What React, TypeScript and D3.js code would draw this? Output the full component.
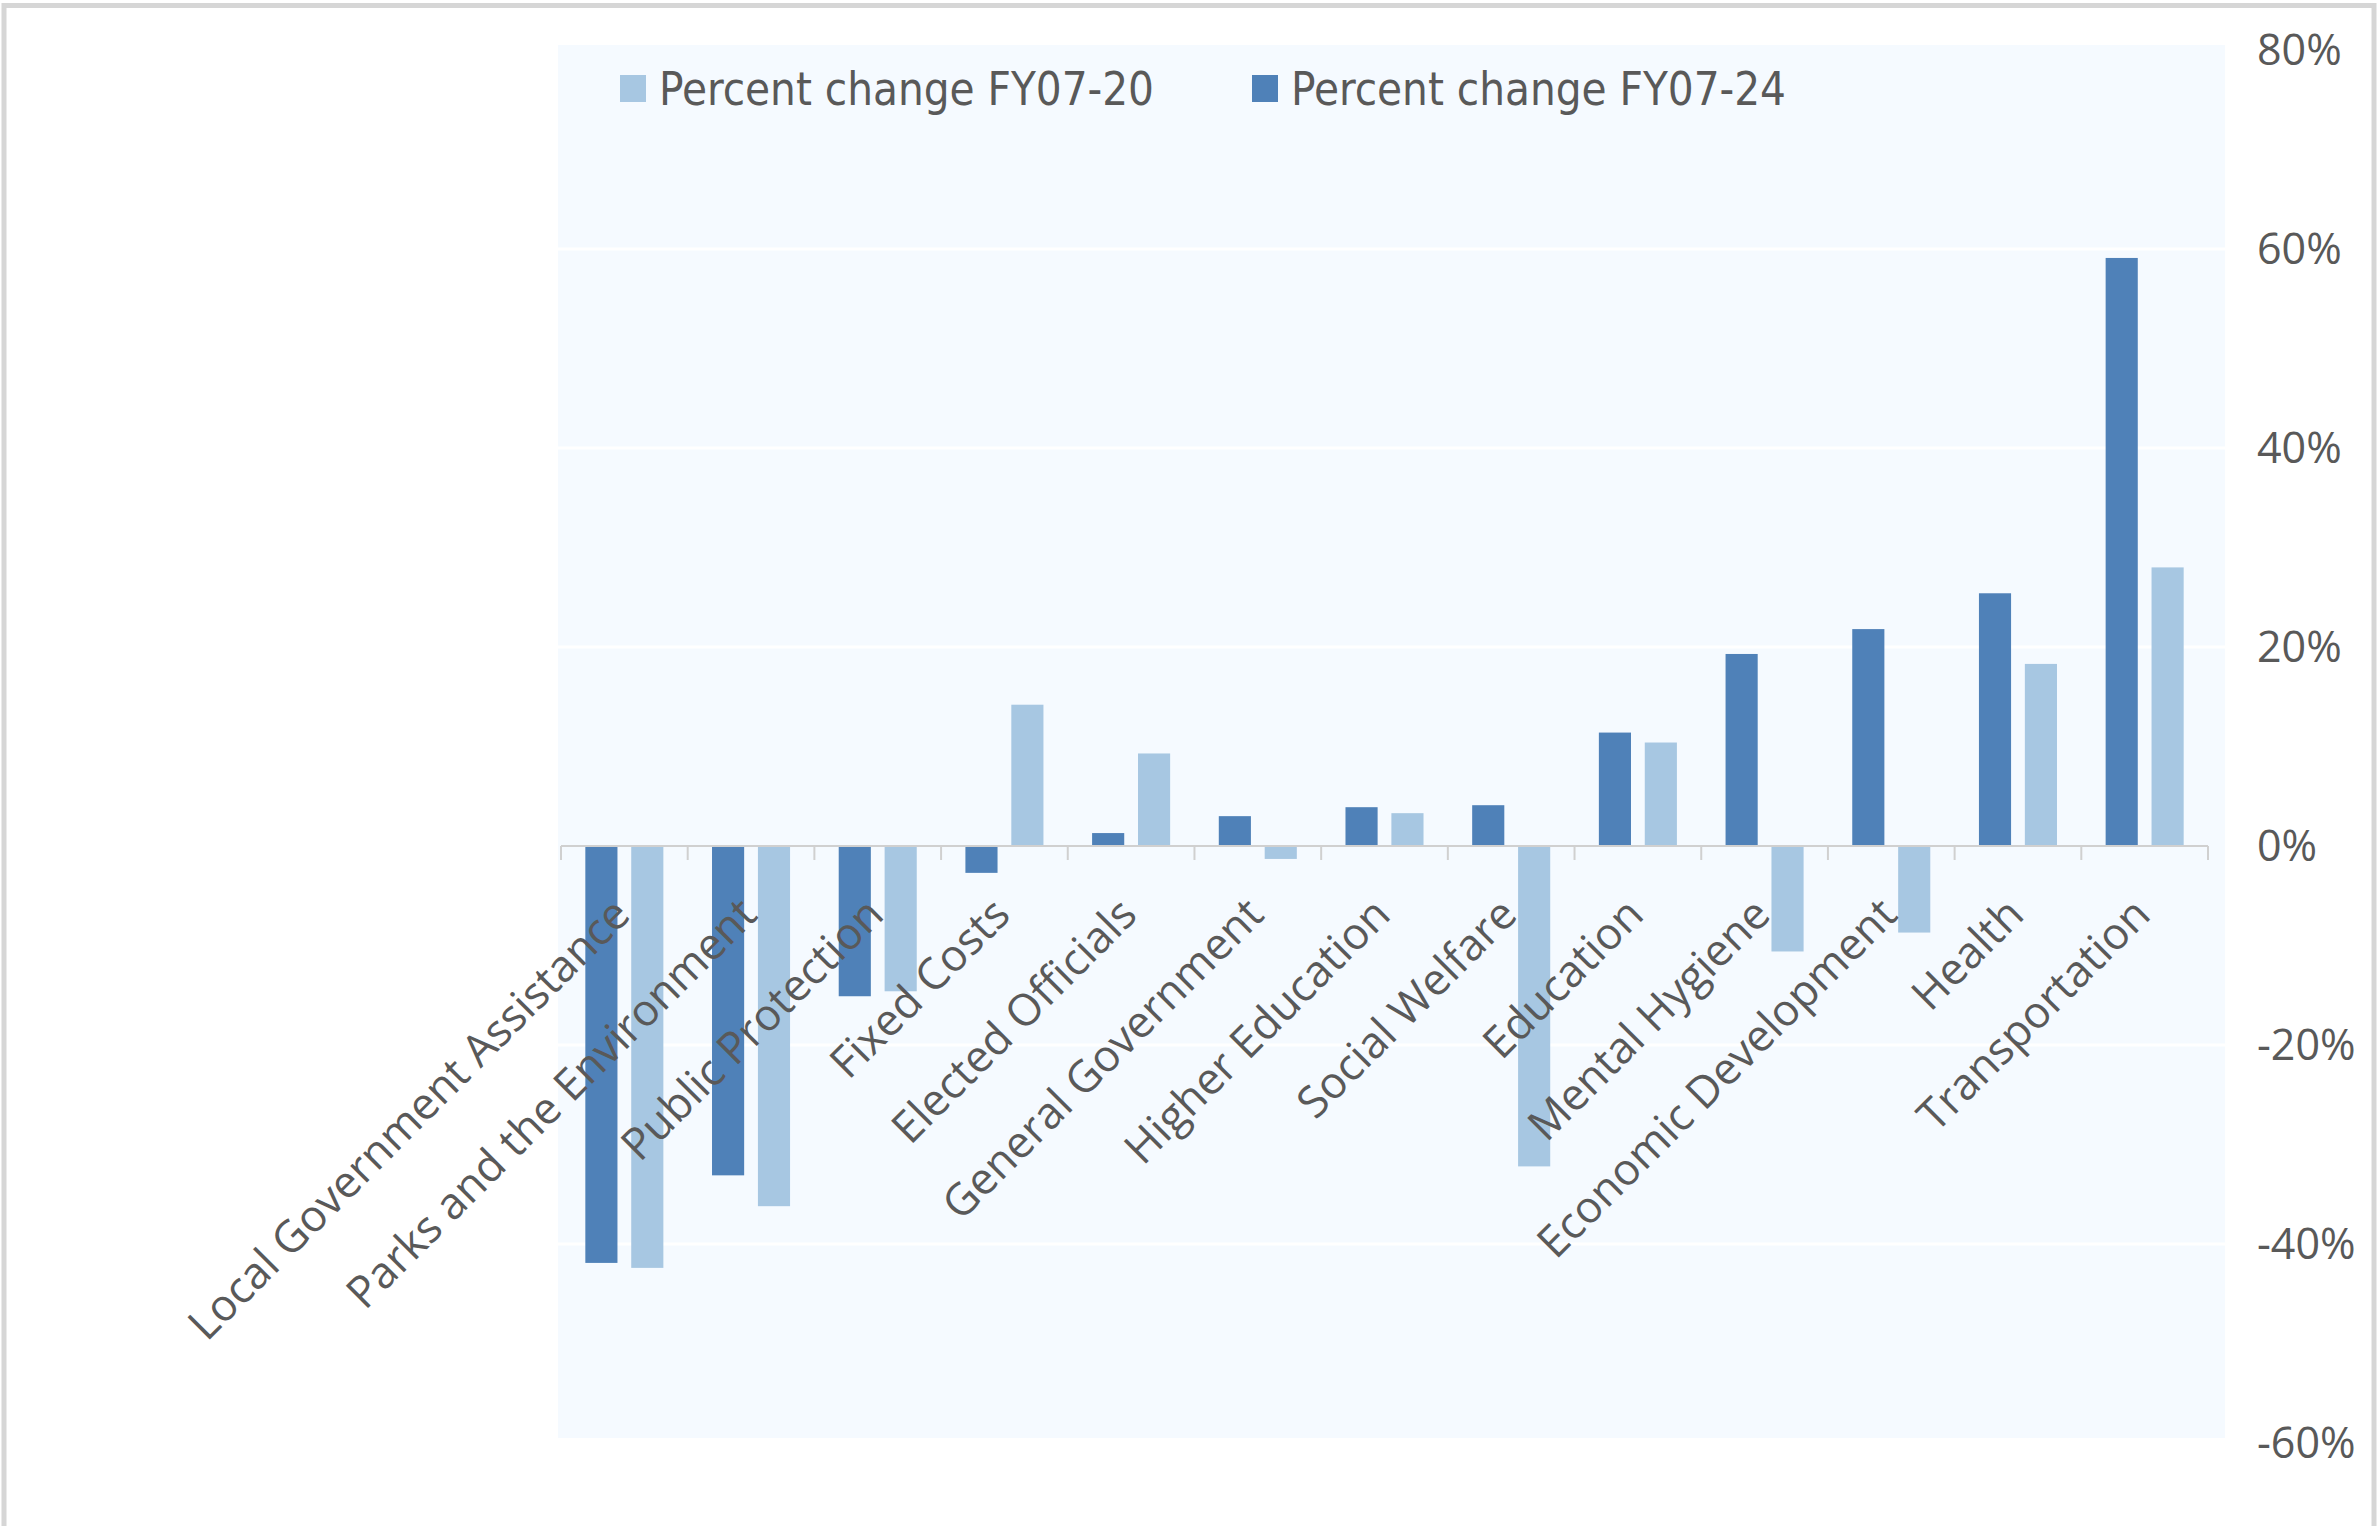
import { useEffect, useRef } from "react";
import * as d3 from "d3";

const categories = [
  "Local Government Assistance",
  "Parks and the Environment",
  "Public Protection",
  "Fixed Costs",
  "Elected Officials",
  "General Government",
  "Higher Education",
  "Social Welfare",
  "Education",
  "Mental Hygiene",
  "Economic Development",
  "Health",
  "Transportation",
];

// percent change FY07-24 (dark bars, drawn first in each group)
const change0724 = [-41.9, -33.1, -15.1, -2.7, 1.3, 3.0, 3.9, 4.1, 11.4, 19.3, 21.8, 25.4, 59.1];
// percent change FY07-20 (light bars)
const change0720 = [-42.4, -36.2, -14.6, 14.2, 9.3, -1.3, 3.3, -32.2, 10.4, -10.6, -8.7, 18.3, 28.0];

const seriesNames = ["Percent change FY07-24", "Percent change FY07-20"];
const legendOrder = ["Percent change FY07-20", "Percent change FY07-24"];
const yTicks = [80, 60, 40, 20, 0, -20, -40, -60];

const W = 2378;
const H = 1526;
const colors: Record<string, string> = {
  "Percent change FY07-24": "#4f81b8",
  "Percent change FY07-20": "#a7c7e2",
};

export default function App() {
  const svgRef = useRef<SVGSVGElement | null>(null);

  useEffect(() => {
    if (!svgRef.current) return;
    const svg = d3.select(svgRef.current);
    svg.selectAll("*").remove();

    const y = d3.scaleLinear().domain([-60, 80]).range([1443, 50]);
    const x0 = d3.scaleBand<string>().domain(categories).range([561, 2208]);
    const x1 = d3
      .scaleBand<string>()
      .domain(seriesNames)
      .range([0, x0.bandwidth()])
      .paddingInner(0.3)
      .paddingOuter(0.53);

    // outer frame
    svg
      .append("rect")
      .attr("x", 0)
      .attr("y", 0)
      .attr("width", W)
      .attr("height", H)
      .attr("fill", "#ffffff");
    svg
      .append("rect")
      .attr("x", 4)
      .attr("y", 5.5)
      .attr("width", 2370)
      .attr("height", 2518)
      .attr("fill", "none")
      .attr("stroke", "#d6d6d6")
      .attr("stroke-width", 5);

    // plot background
    const bgLeft = 558;
    const bgRight = 2225;
    svg
      .append("rect")
      .attr("x", bgLeft)
      .attr("y", y(80) - 5)
      .attr("width", bgRight - bgLeft)
      .attr("height", y(-60) - y(80))
      .attr("fill", "#f5faff");

    // gridlines
    svg
      .append("g")
      .selectAll("line")
      .data(yTicks.filter((t) => t !== 0 && t !== 80 && t !== -60))
      .join("line")
      .attr("x1", bgLeft)
      .attr("x2", bgRight)
      .attr("y1", (d) => y(d))
      .attr("y2", (d) => y(d))
      .attr("stroke", "#ffffff")
      .attr("stroke-width", 3);

    // legend
    const legendX: Record<string, number> = {
      "Percent change FY07-20": 620,
      "Percent change FY07-24": 1252,
    };
    const leg = svg
      .append("g")
      .selectAll("g")
      .data(legendOrder)
      .join("g")
      .attr("transform", (d) => `translate(${legendX[d]},75)`);
    leg
      .append("rect")
      .attr("width", 26)
      .attr("height", 27)
      .attr("fill", (d) => colors[d]);
    leg
      .append("text")
      .attr("x", 39)
      .attr("y", 30)
      .attr("textLength", 495)
      .attr("lengthAdjust", "spacingAndGlyphs")
      .attr("fill", "#595959")
      .style("font-family", "'Liberation Sans Narrow', 'DejaVu Sans Condensed', 'Roboto', sans-serif")
      .style("font-size", "47px")
      .text((d) => d);

    // bars
    const rows = categories.map((c, i) => ({
      cat: c,
      values: [
        { key: seriesNames[0], value: change0724[i] },
        { key: seriesNames[1], value: change0720[i] },
      ],
    }));
    svg
      .append("g")
      .selectAll("g")
      .data(rows)
      .join("g")
      .attr("transform", (d) => `translate(${x0(d.cat)},0)`)
      .selectAll("rect")
      .data((d) => d.values)
      .join("rect")
      .attr("x", (d) => x1(d.key) as number)
      .attr("width", x1.bandwidth())
      .attr("y", (d) => y(Math.max(0, d.value)))
      .attr("height", (d) => Math.abs(y(d.value) - y(0)))
      .attr("fill", (d) => colors[d.key]);

    // zero axis and ticks
    const zeroY = y(0);
    svg
      .append("line")
      .attr("x1", x0.range()[0])
      .attr("x2", x0.range()[1])
      .attr("y1", zeroY)
      .attr("y2", zeroY)
      .attr("stroke", "#d0d0d0")
      .attr("stroke-width", 2);
    const tickXs = categories.map((c) => x0(c) as number).concat([x0.range()[1]]);
    svg
      .append("g")
      .selectAll("line")
      .data(tickXs)
      .join("line")
      .attr("x1", (d) => d)
      .attr("x2", (d) => d)
      .attr("y1", zeroY)
      .attr("y2", zeroY + 14)
      .attr("stroke", "#d0d0d0")
      .attr("stroke-width", 2);

    // category labels
    svg
      .append("g")
      .selectAll("text")
      .data(categories)
      .join("text")
      .attr(
        "transform",
        (d) => `translate(${(x0(d) as number) + x0.bandwidth() / 2 + 8},${zeroY + 71}) rotate(-45)`
      )
      .attr("text-anchor", "end")
      .attr("fill", "#595959")
      .style("font-family", "'Open Sans', 'Segoe UI', sans-serif")
      .style("font-size", "44px")
      .text((d) => d);

    // right y axis labels
    svg
      .append("g")
      .selectAll("text")
      .data(yTicks)
      .join("text")
      .attr("x", 2257)
      .attr("y", (d) => y(d))
      .attr("dy", "0.36em")
      .attr("fill", "#595959")
      .style("font-family", "'Open Sans', 'Segoe UI', sans-serif")
      .style("font-size", "43px")
      .text((d) => `${d}%`);
  }, []);

  return (
    <svg
      ref={svgRef}
      width={W}
      height={H}
      style={{ position: "absolute", left: 0, top: 0, display: "block" }}
    />
  );
}
